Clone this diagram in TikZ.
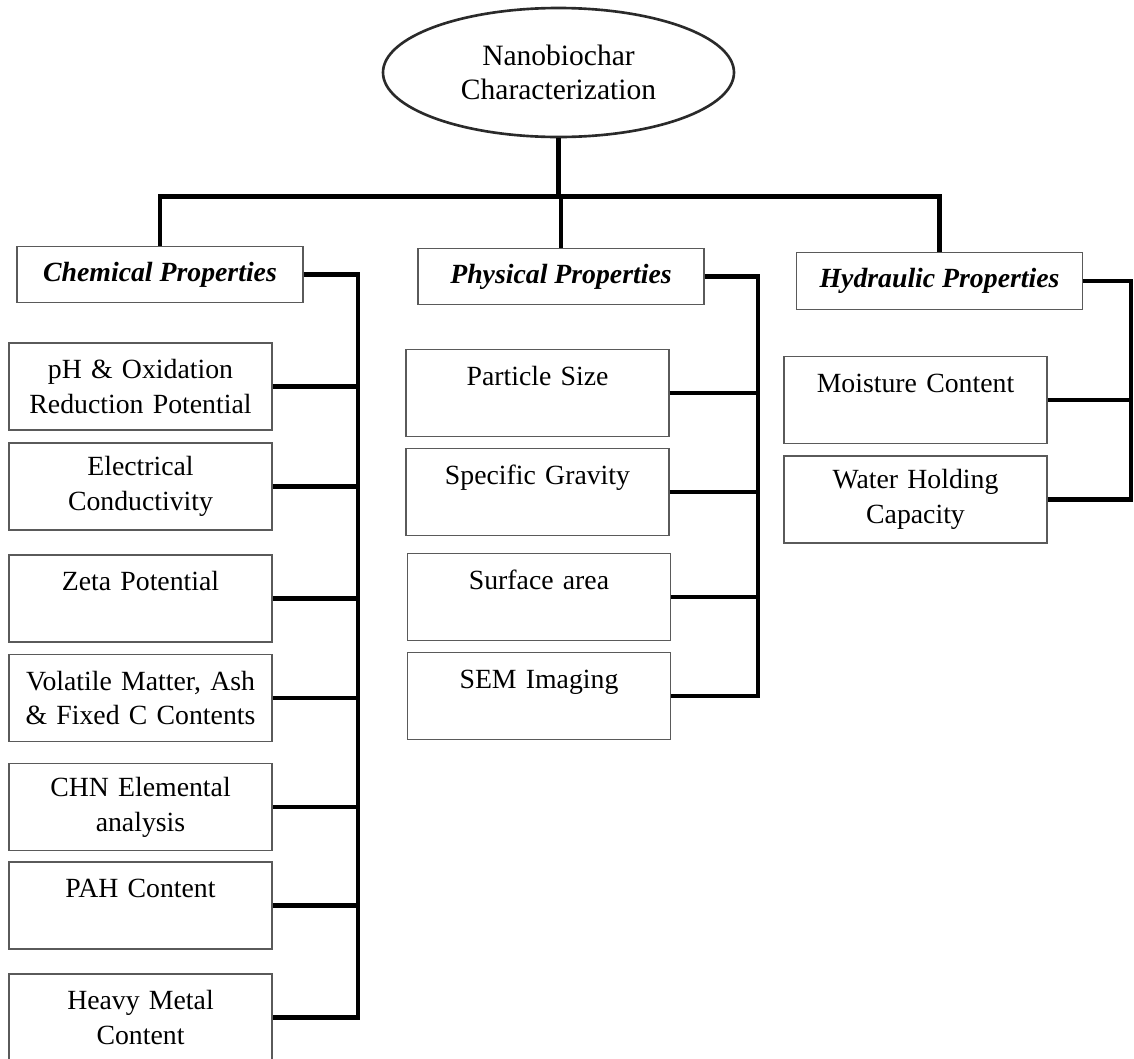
\documentclass[tikz,border=0pt]{standalone}
\usepackage{fontspec}
\setmainfont{Liberation Serif}
\usepackage{tikz}
\usetikzlibrary{shapes.geometric, positioning, calc}
\usepackage{xcolor}
\definecolor{edgeGray}{HTML}{5A5A5A}
\definecolor{rootGray}{HTML}{2A2A2A}

\begin{document}
\begin{tikzpicture}[
    rootnode/.style={ellipse, draw=rootGray, line width=1.5pt, minimum width=7.02cm, minimum height=2.58cm, align=center, font=\fontsize{16.8pt}{19.4pt}\selectfont},
    headbox/.style={rectangle, draw=edgeGray, line width=0.8pt, minimum width=5.72cm, minimum height=1.13cm, font=\fontsize{15.8pt}{19.9pt}\selectfont\bfseries\itshape},
    itembox/.style={rectangle, draw=edgeGray, line width=0.7pt, minimum width=5.26cm, minimum height=1.74cm, text width=4.9cm, inner xsep=0.18cm, align=center, font=\fontsize{15.8pt}{19.9pt}\selectfont},
    oneline/.style={text height=0.38cm, text depth=0.70cm},
    link/.style={line width=2.5pt, line join=miter}
]
\clip (0,0) rectangle (22.68,-21.18);

% Root
\node[rootnode] (root) at (11.17,-1.45) {Nanobiochar\\Characterization};
\coordinate (bus) at ([yshift=-1.16cm]root.south);

% Property groups
\node[headbox] (hchem) at (3.20,-5.49) {Chemical Properties};
\node[headbox] (hphys) at (11.22,-5.53) {Physical Properties};
\node[headbox] (hhyd) at (18.79,-5.62) {Hydraulic Properties};

\draw[link] (root.south) -- (bus);
\draw[link] (hchem.north) -- (hchem.north |- bus) -- (hhyd.north |- bus) -- (hhyd.north);
\draw[link] (hphys.north) -- (hphys.north |- bus);

% Chemical column
\node[itembox] (c1) at (2.81,-7.73) {pH \& Oxidation\\Reduction Potential};
\node[itembox] (c2) at (2.81,-9.73) {Electrical\\Conductivity};
\node[itembox, oneline] (c3) at (2.81,-11.97) {Zeta Potential};
\node[itembox] (c4) at (2.81,-13.96) {Volatile Matter, Ash\\\& Fixed C Contents};
\node[itembox] (c5) at (2.81,-16.14) {CHN Elemental\\analysis};
\node[itembox, oneline] (c6) at (2.81,-18.11) {PAH Content};
\node[itembox] (c7) at (2.81,-20.35) {Heavy Metal\\Content};
\coordinate (chemspine) at (7.16,0);

\draw[link] (hchem.east) -| (chemspine |- c7.east) -- (c7.east);
\draw[link] (c1.east) -- (c1.east -| chemspine);
\draw[link] (c2.east) -- (c2.east -| chemspine);
\draw[link] (c3.east) -- (c3.east -| chemspine);
\draw[link] (c4.east) -- (c4.east -| chemspine);
\draw[link] (c5.east) -- (c5.east -| chemspine);
\draw[link] (c6.east) -- (c6.east -| chemspine);

% Physical column
\node[itembox, oneline] (p1) at (10.75,-7.86) {Particle Size};
\node[itembox, oneline] (p2) at (10.75,-9.84) {Specific Gravity};
\node[itembox, oneline] (p3) at (10.78,-11.94) {Surface area};
\node[itembox, oneline] (p4) at (10.78,-13.92) {SEM Imaging};
\coordinate (physspine) at (15.16,0);

\draw[link] (hphys.east) -| (physspine |- p4.east) -- (p4.east);
\draw[link] (p1.east) -- (p1.east -| physspine);
\draw[link] (p2.east) -- (p2.east -| physspine);
\draw[link] (p3.east) -- (p3.east -| physspine);

% Hydraulic column
\node[itembox, oneline] (d1) at (18.31,-8.00) {Moisture Content};
\node[itembox] (d2) at (18.31,-9.99) {Water Holding\\Capacity};
\coordinate (hydspine) at (22.62,0);

\draw[link] (hhyd.east) -| (hydspine |- d2.east) -- (d2.east);
\draw[link] (d1.east) -- (d1.east -| hydspine);

\end{tikzpicture}
\end{document}
